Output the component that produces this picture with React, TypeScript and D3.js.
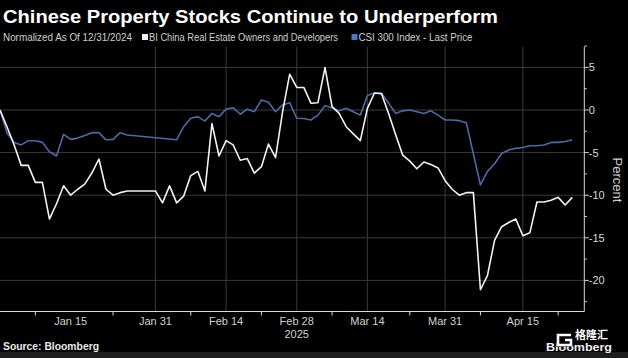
import React from "react";
import * as d3 from "d3";

const W = 628;
const H = 358;

// Trading days (weekdays) from 2024-12-31 to 2025-04-24, excluding 2025-01-01
const START = new Date(Date.UTC(2024, 11, 31));
const END = new Date(Date.UTC(2025, 3, 24));
const HOLIDAYS = ["2025-01-01"];

function iso(d: Date) {
  return d.toISOString().slice(0, 10);
}
const tradingDates: string[] = [];
for (let d = new Date(START); d <= END; d = new Date(d.getTime() + 86400000)) {
  const wd = d.getUTCDay();
  if (wd !== 0 && wd !== 6 && !HOLIDAYS.includes(iso(d))) tradingDates.push(iso(d));
}
const dateIndex = (s: string) => tradingDates.indexOf(s);

// BI China Real Estate Owners and Developers (normalized %, one per trading day)
const realEstate: (number | null)[] = [
  0, -2, -4.1, -6.5, -6.5, -8.5, -8.5, -12.8, -11, -8.9,
  -10, -9.3, -8.7, -7.4, -5.75, -9.3, -10, -9.7, -9.5, -9.5,
  -9.5, -9.5, -9.5, -10.9, -8.9, -10.9, -10.1, -7.7, -7.2, -9.5,
  -1.6, -5.4, -3.6, -4.1, -5.9, -5.7, -7.4, -6.65, -4.0, -5.6,
  -0.2, 4.2, 2.65, 2.65, 0.8, 0.86, 4.97, 0.4, -0.4, -1.96,
  -2.8, -3.6, 0.2, 2.0, 1.9, -0.4, -2.9, -5.3, -6.0, -6.9,
  -6.1, -6.4, -6.8, -8.3, -9.3, -10.0, -9.7, -9.7, -21.1, -19.4,
  -15.3, -13.7, -13.2, -12.8, -14.75, -14.4, -10.8, -10.8, -10.6, -10.25,
  -11.15, -10.25,
];

// CSI 300 Index - Last Price (normalized %), null = no point (line passes straight)
const csi300: (number | null)[] = [
  0, -2.7, -3.8, -4.1, -3.6, -3.6, -3.8, -4.9, -5.4, -2.85,
  -3.45, -3.3, -3.0, -2.66, -2.66, -3.5, -3.45, -2.66, -2.93, null,
  null, null, null, null, null, -3.5, -1.96, -0.97, -0.78, -1.3,
  -0.4, -0.78, 0.1, 0.27, -0.5, 0.1, -0.2, 1.17, 0.9, -0.2,
  0.6, 0.86, -0.97, -1.0, -1.17, -0.6, 0.5, 0.27, -0.1, 0.2,
  -0.2, -0.6, 1.7, 2.0, 2.0, 0.8, -0.4, -0.1, 0, -0.2,
  -0.4, -0.1, -0.6, -1.17, -1.17, -1.25, -1.5, null, -8.8, -7.2,
  -6.3, -5.1, -4.7, -4.5, -4.4, -4.2, -4.2, -4.1, -3.8, -3.8,
  -3.7, -3.5,
];

const xLabelDates = ["2025-01-15", "2025-01-31", "2025-02-14", "2025-02-28", "2025-03-14", "2025-03-31", "2025-04-15"];
const xLabels = ["Jan 15", "Jan 31", "Feb 14", "Feb 28", "Mar 14", "Mar 31", "Apr 15"];
const xGridDates = ["2025-01-31", "2025-02-14", "2025-02-28", "2025-03-14", "2025-03-31", "2025-04-15"];
const xTickDates = ["2025-01-08", "2025-01-23", "2025-02-07", "2025-02-21", "2025-03-07", "2025-03-24", "2025-04-07", "2025-04-22"];
const yMajorTicks = [5, 0, -5, -10, -15, -20];
const yMinorTicks = [7.5, 2.5, -2.5, -7.5, -12.5, -17.5, -22.5];

const title = "Chinese Property Stocks Continue to Underperform";
const subtitle = "Normalized As Of 12/31/2024";
const seriesNames = ["BI China Real Estate Owners and Developers", "CSI 300 Index - Last Price"];

export default function App() {
  const plotLeft = 0;
  const plotRight = 584.3;
  const plotTop = 46.7;
  const plotBottom = 311.5;

  const x = d3.scaleLinear().domain([0, 82.7]).range([plotLeft, plotRight]);
  const y = d3.scaleLinear().domain([-23.65, 7.43]).range([plotBottom, plotTop]);

  const toPts = (vals: (number | null)[]) =>
    vals
      .map((v, i) => (v === null ? null : ([i, v] as [number, number])))
      .filter((p): p is [number, number] => p !== null);

  const line = d3
    .line<[number, number]>()
    .x((d) => x(d[0]))
    .y((d) => y(d[1]));

  const font = "'Liberation Sans', Arial, sans-serif";
  const grid = "#3a3a3a";

  return (
    <svg
      width={W}
      height={H}
      style={{ position: "absolute", left: 0, top: 0, background: "#000", display: "block" }}
    >
      <rect x={0} y={0} width={W} height={H} fill="#000" />
      <rect x={0} y={352} width={W} height={6} fill="#1e1e1e" />

      {/* Title */}
      <text x={3} y={23} fill="#fff" fontFamily={font} fontWeight="bold" fontSize={18.5} textLength={495} lengthAdjust="spacingAndGlyphs">
        {title}
      </text>

      {/* Subtitle / legend */}
      <text x={3} y={41} fill="#cfcfcf" fontFamily={font} fontSize={10} textLength={129} lengthAdjust="spacingAndGlyphs">
        {subtitle}
      </text>
      <rect x={142} y={34} width={6} height={6} fill="#f2f2f2" />
      <text x={149} y={41} fill="#cfcfcf" fontFamily={font} fontSize={10} textLength={189} lengthAdjust="spacingAndGlyphs">
        {seriesNames[0]}
      </text>
      <rect x={351.5} y={34} width={6} height={6} fill="#4f78c4" />
      <text x={358.5} y={41} fill="#cfcfcf" fontFamily={font} fontSize={10} textLength={114} lengthAdjust="spacingAndGlyphs">
        {seriesNames[1]}
      </text>

      {/* Horizontal gridlines */}
      {yMajorTicks.map((t) => (
        <line key={"hg" + t} x1={plotLeft} x2={plotRight} y1={y(t)} y2={y(t)} stroke={grid} strokeWidth={1} />
      ))}
      {/* Vertical gridlines */}
      {xGridDates.map((d) => (
        <line key={"vg" + d} x1={x(dateIndex(d))} x2={x(dateIndex(d))} y1={plotTop} y2={plotBottom} stroke={grid} strokeWidth={1} />
      ))}

      {/* Series */}
      <path d={line(toPts(csi300)) || ""} fill="none" stroke="#4a6aa8" strokeWidth={1.6} strokeLinejoin="round" />
      <path d={line(toPts(realEstate)) || ""} fill="none" stroke="#f2f2f2" strokeWidth={1.6} strokeLinejoin="round" />

      {/* Axes */}
      <line x1={plotRight} x2={plotRight} y1={plotTop} y2={plotBottom} stroke="#d8d8d8" strokeWidth={1} />
      <line x1={plotLeft} x2={plotRight} y1={plotBottom} y2={plotBottom} stroke="#d8d8d8" strokeWidth={1} />

      {yMajorTicks.map((t) => (
        <g key={"yt" + t}>
          <line x1={plotRight} x2={plotRight + 4.5} y1={y(t)} y2={y(t)} stroke="#d8d8d8" />
          <text x={plotRight + 4.5} y={y(t) + 4} fill="#d8d8d8" fontFamily={font} fontSize={11}>
            {String(t)}
          </text>
        </g>
      ))}
      {yMinorTicks.map((t) => (
        <line key={"ym" + t} x1={plotRight} x2={plotRight + 2.5} y1={y(t)} y2={y(t)} stroke="#d8d8d8" />
      ))}
      <text
        transform={`translate(613,180) rotate(90)`}
        textAnchor="middle"
        fill="#d0d0d0"
        fontFamily={font}
        fontSize={13}
      >
        Percent
      </text>

      {xTickDates.map((d) => (
        <line key={"xt" + d} x1={x(dateIndex(d))} x2={x(dateIndex(d))} y1={plotBottom} y2={plotBottom + 4} stroke="#d8d8d8" />
      ))}
      {xLabelDates.map((d, i) => (
        <text key={"xl" + d} x={x(dateIndex(d))} y={325} textAnchor="middle" fill="#d0d0d0" fontFamily={font} fontSize={11}>
          {xLabels[i]}
        </text>
      ))}
      <text x={x(dateIndex("2025-02-28"))} y={338} textAnchor="middle" fill="#d0d0d0" fontFamily={font} fontSize={11}>
        2025
      </text>

      {/* Source */}
      <text x={3} y={350} fill="#e8e8e8" fontFamily={font} fontWeight="bold" fontSize={10.5} textLength={96} lengthAdjust="spacingAndGlyphs">
        Source: Bloomberg
      </text>

      {/* Bottom-right branding */}
      <text x={546} y={351} fill="#f0f0f0" fontFamily={font} fontWeight="bold" fontSize={10.5} textLength={66} lengthAdjust="spacingAndGlyphs">
        Bloomberg
      </text>
      {/* G logo mark (graphic) */}
      <rect x={555} y={332} width={18} height={15} rx={2} fill="#000" opacity={0.55} />
      <path
        d="M571,335 L558,335 L558,345 L571,345 L571,340 L565,340"
        fill="none"
        stroke="#ffffff"
        strokeWidth={2.6}
      />
      <text x={575} y={338.5} fill="#ffffff" fontFamily="'Noto Sans CJK SC', sans-serif" fontWeight="bold" fontSize={11}>
        格隆汇
      </text>
    </svg>
  );
}
